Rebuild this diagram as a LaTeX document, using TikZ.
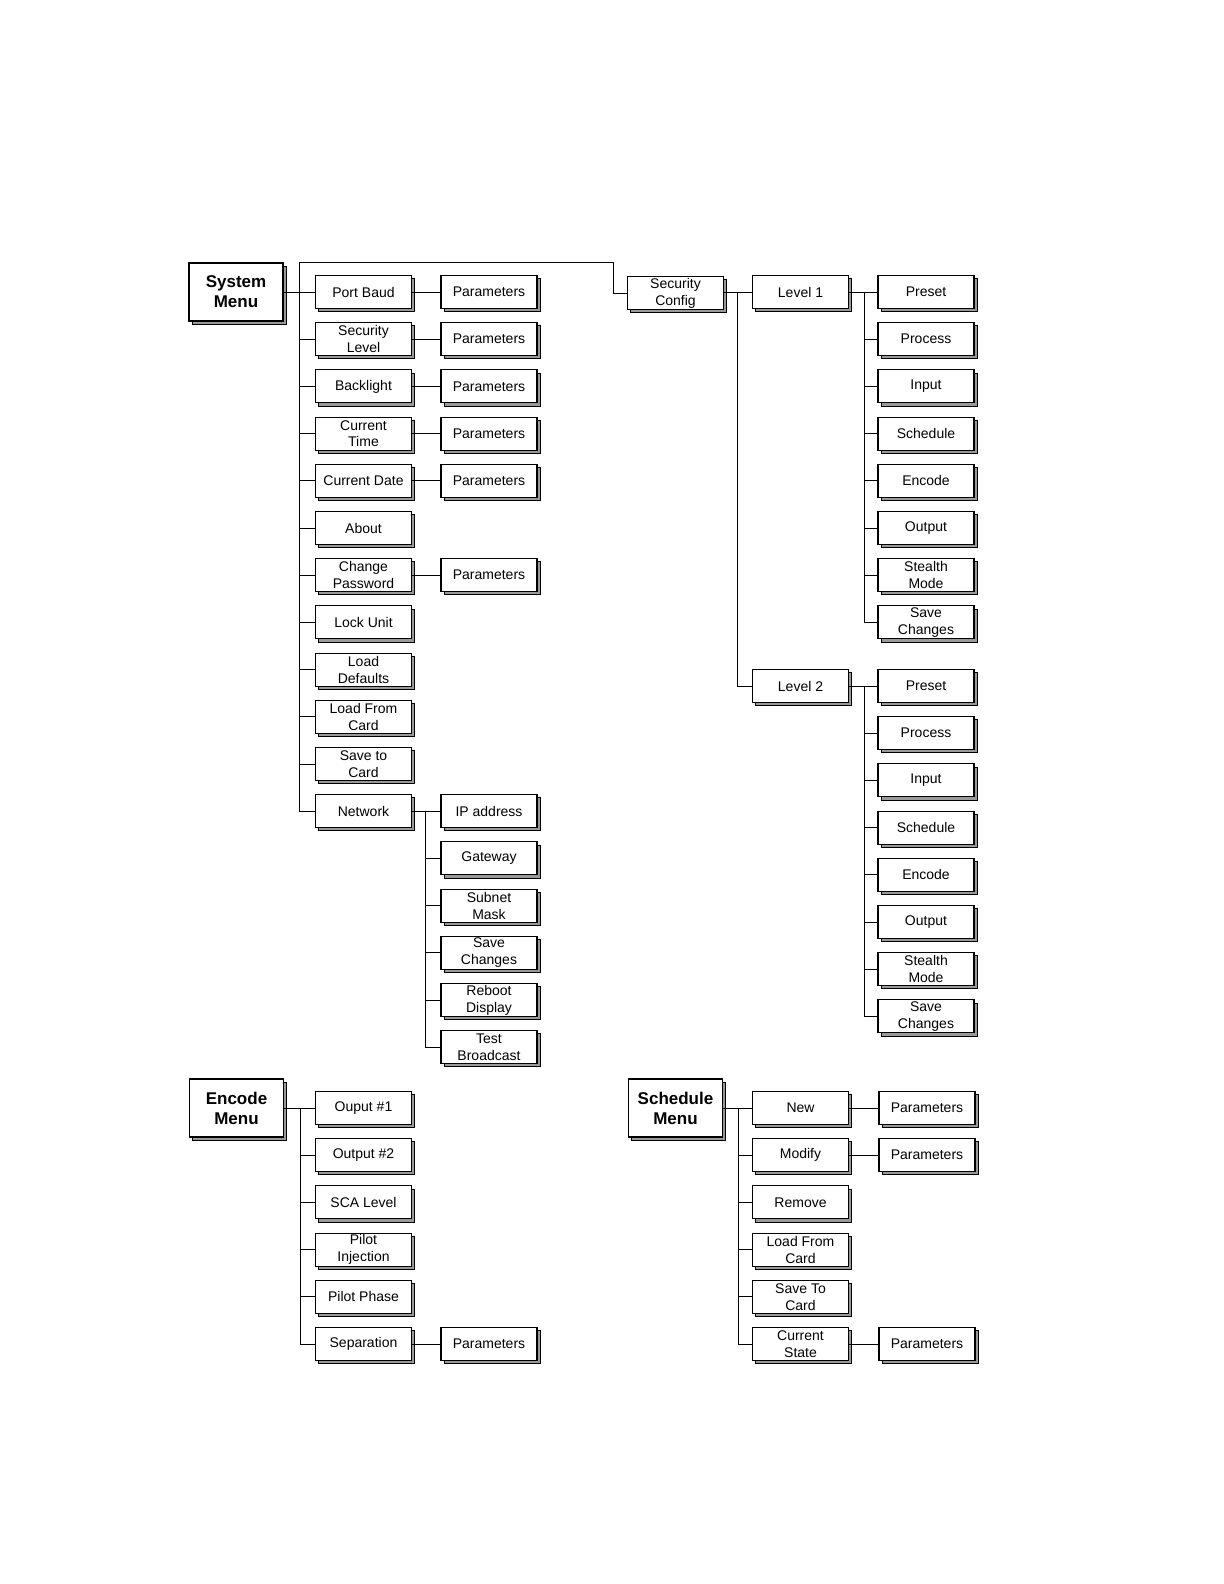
\documentclass[tikz,border=0pt]{standalone}
\usepackage{fontspec}
\setmainfont{Liberation Sans}
\usetikzlibrary{shadows,calc}
\begin{document}
\begin{tikzpicture}[x=0.5pt,y=-0.5pt,
  box/.style={draw=black, line width=0.55pt, fill=white, minimum width=48pt, minimum height=16.5pt,
    inner sep=0pt, align=center, font=\fontsize{7}{8.4}\selectfont,
    drop shadow={shadow xshift=1.6pt, shadow yshift=-1.6pt, fill=black!40, draw=black, line width=0.5pt, opacity=1}},
  menu/.style={box, minimum width=47pt, minimum height=29pt, font=\bfseries\fontsize{8.5}{10}\selectfont},
  conn/.style={line width=0.5pt}]
\useasboundingbox (0,0) rectangle (1224,1584);

% ---------------- System Menu ----------------
\node[menu] (sys) at (236,292) {System\\Menu};
\node[box] (pb)  at (363.5,292)   {Port Baud};
\node[box] (sl)  at (363.5,339.2) {Security\\Level};
\node[box] (bl)  at (363.5,386.4) {Backlight};
\node[box] (ct)  at (363.5,433.6) {Current\\Time};
\node[box] (cd)  at (363.5,480.8) {Current Date};
\node[box] (ab)  at (363.5,528)   {About};
\node[box] (cp)  at (363.5,575.2) {Change\\Password};
\node[box] (lu)  at (363.5,622.4) {Lock Unit};
\node[box] (ld)  at (363.5,669.6) {Load\\Defaults};
\node[box] (lfc) at (363.5,716.8) {Load From\\Card};
\node[box] (stc) at (363.5,764)   {Save to\\Card};
\node[box] (net) at (363.5,811.2) {Network};

\node[box] (pbP) at (489,292)   {Parameters};
\node[box] (slP) at (489,339.2) {Parameters};
\node[box] (blP) at (489,386.4) {Parameters};
\node[box] (ctP) at (489,433.6) {Parameters};
\node[box] (cdP) at (489,480.8) {Parameters};
\node[box] (cpP) at (489,575.2) {Parameters};

\node[box] (ip)  at (489,811.2)  {IP address};
\node[box] (gw)  at (489,858.4)  {Gateway};
\node[box] (sm)  at (489,905.6)  {Subnet\\Mask};
\node[box] (nsc) at (489,952.8)  {Save\\Changes};
\node[box] (rd)  at (489,1000)   {Reboot\\Display};
\node[box] (tb)  at (489,1047.2) {Test\\Broadcast};

% Security config branch
\node[box] (sc) at (675.5,293) {Security\\Config};
\node[box] (l1) at (800.5,292) {Level 1};
\node[box] (l2) at (800.5,686)  {Level 2};

\node[box] (a1) at (926,292)   {Preset};
\node[box] (a2) at (926,339.2) {Process};
\node[box] (a3) at (926,386.4) {Input};
\node[box] (a4) at (926,433.6) {Schedule};
\node[box] (a5) at (926,480.8) {Encode};
\node[box] (a6) at (926,528)   {Output};
\node[box] (a7) at (926,575.2) {Stealth\\Mode};
\node[box] (a8) at (926,622.4) {Save\\Changes};

\node[box] (b1) at (926,686)    {Preset};
\node[box] (b2) at (926,733.2)  {Process};
\node[box] (b3) at (926,780.4)  {Input};
\node[box] (b4) at (926,827.6)  {Schedule};
\node[box] (b5) at (926,874.8)  {Encode};
\node[box] (b6) at (926,922)    {Output};
\node[box] (b7) at (926,969.2)  {Stealth\\Mode};
\node[box] (b8) at (926,1016.4) {Save\\Changes};

% connectors system menu
\coordinate (sysTop) at (299,262);
\coordinate (scTurn) at (613,262);
\draw[conn] (sysTop) -- (sysTop |- net.west);
\draw[conn] (sys.east) -- (pb.west);
\foreach \n in {sl,bl,ct,cd,ab,cp,lu,ld,lfc,stc,net}
  \draw[conn] (sysTop |- \n.west) -- (\n.west);
\foreach \a/\b in {pb/pbP,sl/slP,bl/blP,ct/ctP,cd/cdP,cp/cpP,net/ip}
  \draw[conn] (\a.east) -- (\b.west);
\draw[conn] (sysTop) -- (scTurn) |- (sc.west);

\coordinate (netSp) at (425,811.2);
\draw[conn] (netSp) -- (netSp |- tb.west);
\foreach \n in {gw,sm,nsc,rd,tb}
  \draw[conn] (netSp |- \n.west) -- (\n.west);

\coordinate (lvSp) at (737,292);
\draw[conn] (sc.east |- l1.west) -- (l1.west);
\draw[conn] (lvSp) |- (l2.west);

\coordinate (l1Sp) at (864,292);
\draw[conn] (l1.east) -- (a1.west);
\draw[conn] (l1Sp) -- (l1Sp |- a8.west);
\foreach \n in {a2,a3,a4,a5,a6,a7,a8}
  \draw[conn] (l1Sp |- \n.west) -- (\n.west);

\coordinate (l2Sp) at (864,686);
\draw[conn] (l2.east) -- (b1.west);
\draw[conn] (l2Sp) -- (l2Sp |- b8.west);
\foreach \n in {b2,b3,b4,b5,b6,b7,b8}
  \draw[conn] (l2Sp |- \n.west) -- (\n.west);

% ---------------- Encode Menu ----------------
\node[menu] (enc) at (236.5,1108) {Encode\\Menu};
\node[box] (e1) at (363.5,1108)   {Ouput \#1};
\node[box] (e2) at (363.5,1155.2) {Output \#2};
\node[box] (e3) at (363.5,1202.4) {SCA Level};
\node[box] (e4) at (363.5,1249.6) {Pilot\\Injection};
\node[box] (e5) at (363.5,1296.8) {Pilot Phase};
\node[box] (e6) at (363.5,1344)   {Separation};
\node[box] (e6P) at (489,1344)    {Parameters};

\coordinate (encSp) at (300,1108);
\draw[conn] (enc.east) -- (e1.west);
\draw[conn] (encSp) -- (encSp |- e6.west);
\foreach \n in {e2,e3,e4,e5,e6}
  \draw[conn] (encSp |- \n.west) -- (\n.west);
\draw[conn] (e6.east) -- (e6P.west);

% ---------------- Schedule Menu ----------------
\node[menu] (sch) at (675.5,1108) {Schedule\\Menu};
\node[box] (s1) at (800.5,1108)   {New};
\node[box] (s2) at (800.5,1155.2) {Modify};
\node[box] (s3) at (800.5,1202.4) {Remove};
\node[box] (s4) at (800.5,1249.6) {Load From\\Card};
\node[box] (s5) at (800.5,1296.8) {Save To\\Card};
\node[box] (s6) at (800.5,1344)   {Current\\State};
\node[box] (s1P) at (927,1108)    {Parameters};
\node[box] (s2P) at (927,1155.2)  {Parameters};
\node[box] (s6P) at (927,1344)    {Parameters};

\coordinate (schSp) at (738,1108);
\draw[conn] (sch.east) -- (s1.west);
\draw[conn] (schSp) -- (schSp |- s6.west);
\foreach \n in {s2,s3,s4,s5,s6}
  \draw[conn] (schSp |- \n.west) -- (\n.west);
\foreach \a/\b in {s1/s1P,s2/s2P,s6/s6P}
  \draw[conn] (\a.east) -- (\b.west);
\end{tikzpicture}
\end{document}
